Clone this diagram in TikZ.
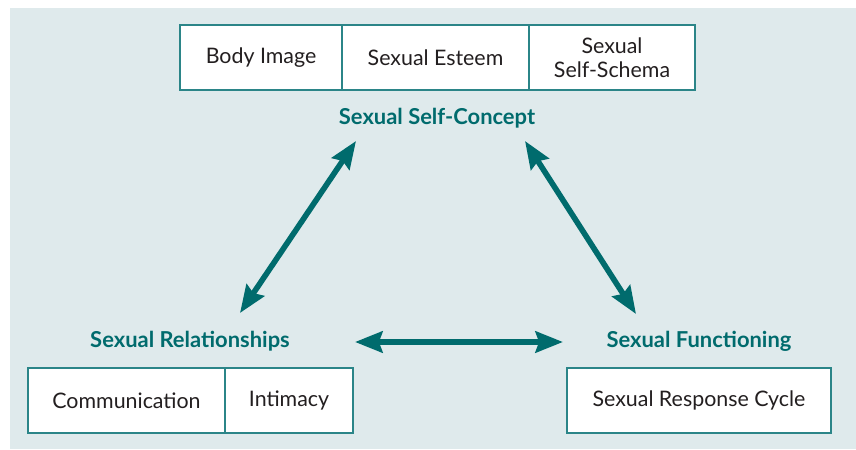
\documentclass[tikz,border=0pt]{standalone}
\usepackage{fontspec}
\setmainfont{Lato}
\usepackage{tikz}
\usetikzlibrary{arrows.meta}

\definecolor{panel}{HTML}{DFEAEC}
\definecolor{tealdark}{HTML}{006B6D}
\definecolor{tealline}{HTML}{2B8588}
\definecolor{inktext}{HTML}{231F20}

\tikzset{
  cell/.style={draw=tealline, line width=1pt, fill=white, inner sep=0pt,
    text=inktext, font=\fontsize{15.2}{17}\selectfont, align=center},
  head/.style={text=tealdark, font=\bfseries\fontsize{15.6}{18}\selectfont},
  link/.style={draw=tealdark, line width=4pt,
    {Stealth[length=19.5pt,width=15pt,inset=2.5pt]}-{Stealth[length=19.5pt,width=15pt,inset=2.5pt]}}
}

\begin{document}
\begin{tikzpicture}
    \useasboundingbox (0,0) rectangle (21.4,11.225);
    \fill [panel] (0.25,0) rectangle (21.4,11.025);
    %% self-concept
    \node [cell, minimum width=4.05cm, minimum height=1.625cm] (body) at (6.525,9.7875) {Body Image};
    \node [cell, minimum width=4.675cm, minimum height=1.625cm] (esteem) at (10.8875,9.7875) {Sexual Esteem};
    \node [cell, minimum width=4.15cm, minimum height=1.625cm] (schema) at (15.3,9.7875) {Sexual\\Self-Schema};
    \node [head] (concept) at (10.925,8.275) {Sexual Self-Concept};
    %% relationships
    \node [head] (relation) at (4.75,2.7) {Sexual Relationships};
    \node [cell, minimum width=4.925cm, minimum height=1.625cm] (comm) at (3.1625,1.2125) {Communication};
    \node [cell, minimum width=3.2cm, minimum height=1.625cm] (intim) at (7.225,1.2125) {Intimacy};
    %% functioning
    \node [head] (function) at (17.475,2.7) {Sexual Functioning};
    \node [cell, minimum width=6.6cm, minimum height=1.625cm] (cycle) at (17.475,1.2125) {Sexual Response Cycle};
    %% arrow ends
    \coordinate (relup) at (6.0,3.4);
    \coordinate (conleft) at (8.9,7.7);
    \coordinate (conright) at (13.125,7.7);
    \coordinate (funup) at (15.9,3.375);
    \coordinate (relright) at (8.875,2.675);
    \coordinate (funleft) at (14.075,2.675);
    \draw [link] (relup) -- (conleft);
    \draw [link] (conright) -- (funup);
    \draw [link] (relright) -- (funleft);
\end{tikzpicture}
\end{document}
